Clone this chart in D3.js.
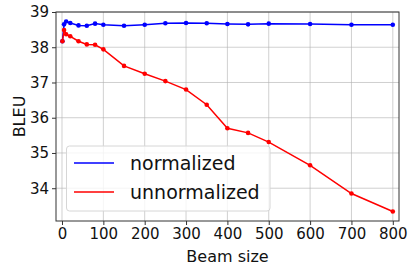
<!DOCTYPE html>
<html><head><meta charset="utf-8">
<script src="https://cdn.jsdelivr.net/npm/d3@7"></script>
<style>body{margin:0;background:#fff;}svg{display:block;font-family:"DejaVu Sans",sans-serif;}</style>
</head><body>
<script>
const beamSizes = [1,5,10,20,40,60,80,100,150,200,250,300,350,400,450,500,600,700,800];
const normalized = [38.17,38.65,38.73,38.69,38.62,38.61,38.67,38.64,38.61,38.64,38.68,38.69,38.68,38.66,38.65,38.67,38.66,38.64,38.64];
const unnormalized = [38.17,38.49,38.37,38.31,38.17,38.08,38.07,37.94,37.47,37.25,37.04,36.80,36.37,35.70,35.57,35.31,34.65,33.85,33.34];
const xTicks = [0,100,200,300,400,500,600,700,800];
const yTicks = [34,35,36,37,38,39];
const seriesNames = ["normalized","unnormalized"];
const seriesColors = ["#0000ff","#ff0000"];

const W=409,H=266, L=56,R=399,T=12,B=221;
const svg=d3.select("body").append("svg").attr("width",W).attr("height",H);
const x=d3.scaleLinear().domain([-14.5,815]).range([L,R]);
const y=d3.scaleLinear().domain([33.07,39.0]).range([B,T]);

// grid
svg.append("g").selectAll("line").data(xTicks).join("line")
  .attr("x1",d=>x(d)).attr("x2",d=>x(d)).attr("y1",T).attr("y2",B)
  .attr("stroke","#b0b0b0").attr("stroke-opacity",0.6).attr("stroke-width",1);
svg.append("g").selectAll("line").data(yTicks).join("line")
  .attr("y1",d=>y(d)).attr("y2",d=>y(d)).attr("x1",L).attr("x2",R)
  .attr("stroke","#b0b0b0").attr("stroke-opacity",0.6).attr("stroke-width",1);

const xAxis=svg.append("g").attr("transform",`translate(0,${B})`)
  .call(d3.axisBottom(x).tickValues(xTicks).tickFormat(d3.format("d")).tickSize(4).tickPadding(3));
const yAxis=svg.append("g").attr("transform",`translate(${L},0)`)
  .call(d3.axisLeft(y).tickValues(yTicks).tickFormat(d3.format("d")).tickSize(4).tickPadding(3));
[xAxis,yAxis].forEach(a=>{
  a.select(".domain").remove();
  a.selectAll("text").attr("font-size",15).attr("fill","#111").attr("font-family","DejaVu Sans");
  a.selectAll("line").attr("stroke","#333");
});
svg.append("rect").attr("x",L).attr("y",T).attr("width",R-L).attr("height",B-T)
  .attr("fill","none").attr("stroke","#333").attr("stroke-width",1);

const series=[normalized,unnormalized];
series.forEach((vals,i)=>{
  const pts=beamSizes.map((b,j)=>[b,vals[j]]);
  svg.append("path").datum(pts)
    .attr("d",d3.line().x(d=>x(d[0])).y(d=>y(d[1])))
    .attr("fill","none").attr("stroke",seriesColors[i]).attr("stroke-width",1.5);
  svg.append("g").selectAll("circle").data(pts).join("circle")
    .attr("cx",d=>x(d[0])).attr("cy",d=>y(d[1])).attr("r",2.3)
    .attr("fill",seriesColors[i]);
});

svg.append("text").attr("x",(L+R)/2).attr("y",262).attr("text-anchor","middle")
  .attr("font-size",16).attr("fill","#111").text("Beam size");
svg.append("text").attr("transform",`translate(19,${(T+B)/2}) rotate(-90)`)
  .attr("text-anchor","middle").attr("dy","0.35em").attr("font-size",16).attr("fill","#111").text("BLEU");

// legend
const lg=svg.append("g");
lg.append("rect").attr("x",66.5).attr("y",146).attr("width",203.5).attr("height",65).attr("rx",3)
  .attr("fill","#fff").attr("fill-opacity",0.8).attr("stroke","#d6d6d6");
seriesNames.forEach((n,i)=>{
  const cy=163+i*29;
  lg.append("line").attr("x1",74).attr("x2",114).attr("y1",cy).attr("y2",cy)
    .attr("stroke",seriesColors[i]).attr("stroke-width",1.5);
  lg.append("text").attr("x",130).attr("y",cy).attr("dy","0.35em")
    .attr("font-size",19).attr("fill","#111").text(n);
});
</script>
</body></html>
